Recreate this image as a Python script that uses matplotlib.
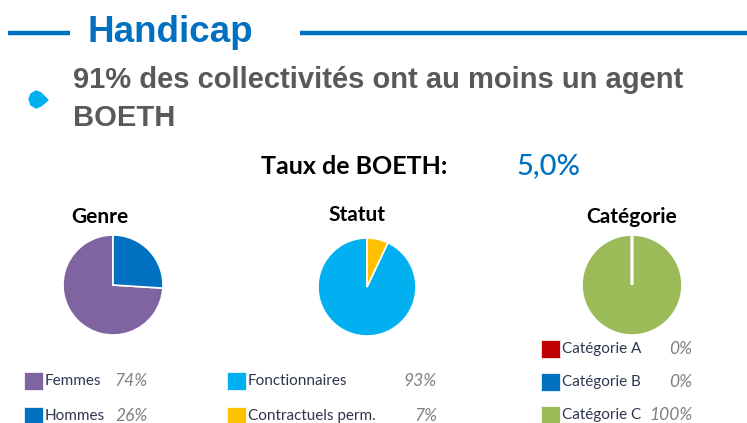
import matplotlib
matplotlib.use('Agg')
import matplotlib.pyplot as plt
from matplotlib.patches import Rectangle, Polygon

W, H = 747, 423

# data
genre_labels = ['Femmes', 'Hommes']
genre_values = [74, 26]
genre_colors = ['#8064A2', '#0070C0']

statut_labels = ['Fonctionnaires', 'Contractuels perm.']
statut_values = [93, 7]
statut_colors = ['#00B0F0', '#FFC000']

cat_labels = ['Catégorie A', 'Catégorie B', 'Catégorie C']
cat_values = [0, 0, 100]
cat_colors = ['#C00000', '#0070C0', '#9BBB59']

taux_boeth = '5,0%'
headline = ['91% des collectivités ont au moins un agent', 'BOETH']

title_font = ['Liberation Sans', 'DejaVu Sans']
body_font = ['Lato', 'DejaVu Sans']

fig = plt.figure(figsize=(W / 100, H / 100), dpi=100)
fig.patch.set_facecolor('white')

# overlay axes in pixel coords (y down)
bg = fig.add_axes([0, 0, 1, 1])
bg.set_xlim(0, W)
bg.set_ylim(H, 0)
bg.axis('off')

blue = '#0070C0'
bg.plot([8, 70], [33, 33], color=blue, lw=3.2, solid_capstyle='butt')
bg.plot([300, W], [33, 33], color=blue, lw=3.2, solid_capstyle='butt')
bg.text(88, 32, 'Handicap', color=blue, fontsize=26.5, fontweight='bold',
        family=title_font, va='center', ha='left')

# bullet drop
bg.add_patch(Polygon([[29, 99], [31, 94], [36, 91], [41, 93], [48, 100],
                      [41, 106], [36, 108], [31, 105]],
                     closed=True, color='#00B0F0'))
bg.text(73, 80, headline[0], color='#595959', fontsize=21, fontweight='bold',
        family=title_font, va='center', ha='left')
bg.text(73, 118, headline[1], color='#595959', fontsize=21, fontweight='bold',
        family=title_font, va='center', ha='left')

bg.text(354, 166, 'Taux de BOETH:', color='black', fontsize=18, fontweight='bold',
        family=body_font, va='center', ha='center')
bg.text(548, 166, taux_boeth, color=blue, fontsize=21, family=body_font,
        fontweight='medium', va='center', ha='center')


def draw_pie(cx, cy, r, values, colors, title, tx, ty):
    ax = fig.add_axes([(cx - r) / W, (H - cy - r) / H, 2 * r / W, 2 * r / H])
    wedges, _ = ax.pie(values, colors=colors, startangle=90, counterclock=True,
                       wedgeprops=dict(edgecolor='white', linewidth=1.2))
    # empty slices show as a white radius, like the spreadsheet output
    for w, v in zip(wedges, values):
        if v == 0:
            w.set_zorder(5)
            w.set_linewidth(2)
    ax.set_xlim(-1.02, 1.02)
    ax.set_ylim(-1.02, 1.02)
    ax.axis('off')
    bg.text(tx, ty, title, fontsize=15, fontweight='bold', family=body_font,
            ha='center', va='center', color='black')


draw_pie(113, 285, 51, genre_values, genre_colors, 'Genre', 100, 217)
draw_pie(367, 287, 50, statut_values, statut_colors, 'Statut', 357, 215)
draw_pie(632, 285, 51, cat_values, cat_colors, 'Catégorie', 632, 217)


def draw_legend(x0, y0, dy, labels, values, colors, px):
    for i, (lab, val, col) in enumerate(zip(labels, values, colors)):
        y = y0 + i * dy
        bg.add_patch(Rectangle((x0, y - 9), 19, 18, facecolor=col,
                               edgecolor='white', lw=0.5))
        bg.text(x0 + 21, y, lab, fontsize=11, family=body_font,
                color='#2F3550', va='center', ha='left')
        bg.text(px, y, f'{val}%', fontsize=12.5, style='italic', family=body_font,
                color='#7F7F7F', va='center', ha='right')


draw_legend(24, 381, 35, genre_labels, genre_values, genre_colors, 148)
draw_legend(227, 381, 35, statut_labels, statut_values, statut_colors, 437)
draw_legend(541, 349, 33, cat_labels, cat_values, cat_colors, 692)

fig.savefig('out.png', dpi=100)
